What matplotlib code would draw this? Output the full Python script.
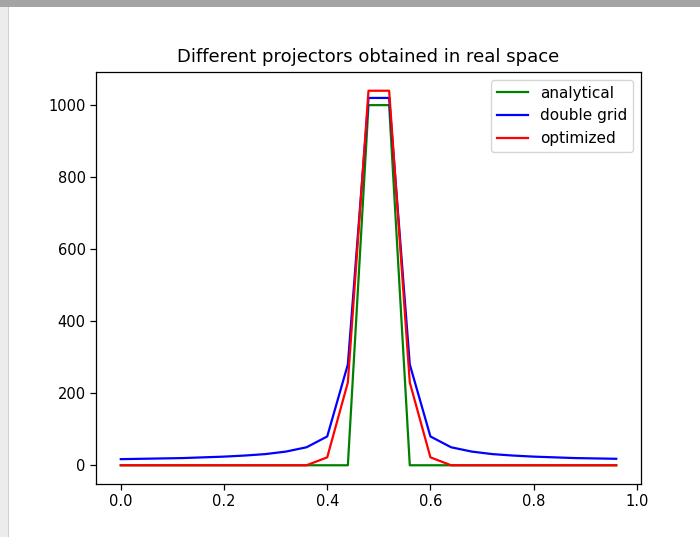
import matplotlib
matplotlib.use("Agg")
import matplotlib.pyplot as plt
from matplotlib.patches import Rectangle

x = [0.00, 0.04, 0.08, 0.12, 0.16, 0.20, 0.24, 0.28, 0.32, 0.36, 0.40, 0.44,
     0.48, 0.52, 0.56, 0.60, 0.64, 0.68, 0.72, 0.76, 0.80, 0.84, 0.88, 0.92, 0.96]
analytical = [0, 0, 0, 0, 0, 0, 0, 0, 0, 0, 0, 0,
              1000, 1000, 0, 0, 0, 0, 0, 0, 0, 0, 0, 0, 0]
double_grid = [17, 18, 19, 20, 22, 24, 27, 31, 38, 50, 80, 280,
               1020, 1020, 280, 80, 50, 38, 31, 27, 24, 22, 20, 19, 18]
optimized = [0, 0, 0, 0, 0, 0, 0, 0, 0, 0, 22, 230,
             1040, 1040, 230, 22, 0, 0, 0, 0, 0, 0, 0, 0, 0]

W, H = 700, 537
fig = plt.figure(figsize=(W / 100, H / 100), dpi=100)
fig.patch.set_facecolor("white")

# screenshot frame
fig.patches.append(Rectangle((0, 1 - 7 / H), 1, 7 / H, transform=fig.transFigure,
                             facecolor="#a4a4a4", edgecolor="none", zorder=0))
fig.patches.append(Rectangle((0, 0), 8 / W, 1 - 7 / H, transform=fig.transFigure,
                             facecolor="#ececec", edgecolor="none", zorder=0))
fig.patches.append(Rectangle((8 / W, 0), 1 / W, 1 - 7 / H, transform=fig.transFigure,
                             facecolor="#cfcfcf", edgecolor="none", zorder=0))

left, right, top, bottom = 96, 641, 72, 484
ax = fig.add_axes([left / W, 1 - bottom / H, (right - left) / W, (bottom - top) / H])

lw = 1.6
ax.plot(x, analytical, color="green", lw=lw, label="analytical")
ax.plot(x, double_grid, color="blue", lw=lw, label="double grid")
ax.plot(x, optimized, color="red", lw=lw, label="optimized")

ax.set_title("Different projectors obtained in real space", fontsize=13, pad=7)
ax.tick_params(labelsize=10.5, length=4, width=0.9)
for s in ax.spines.values():
    s.set_linewidth(0.9)
ax.set_xticks([0.0, 0.2, 0.4, 0.6, 0.8, 1.0])
ax.set_yticks([0, 200, 400, 600, 800, 1000])
ax.legend(loc="upper right", fontsize=11)

fig.savefig("out.png", dpi=100)
